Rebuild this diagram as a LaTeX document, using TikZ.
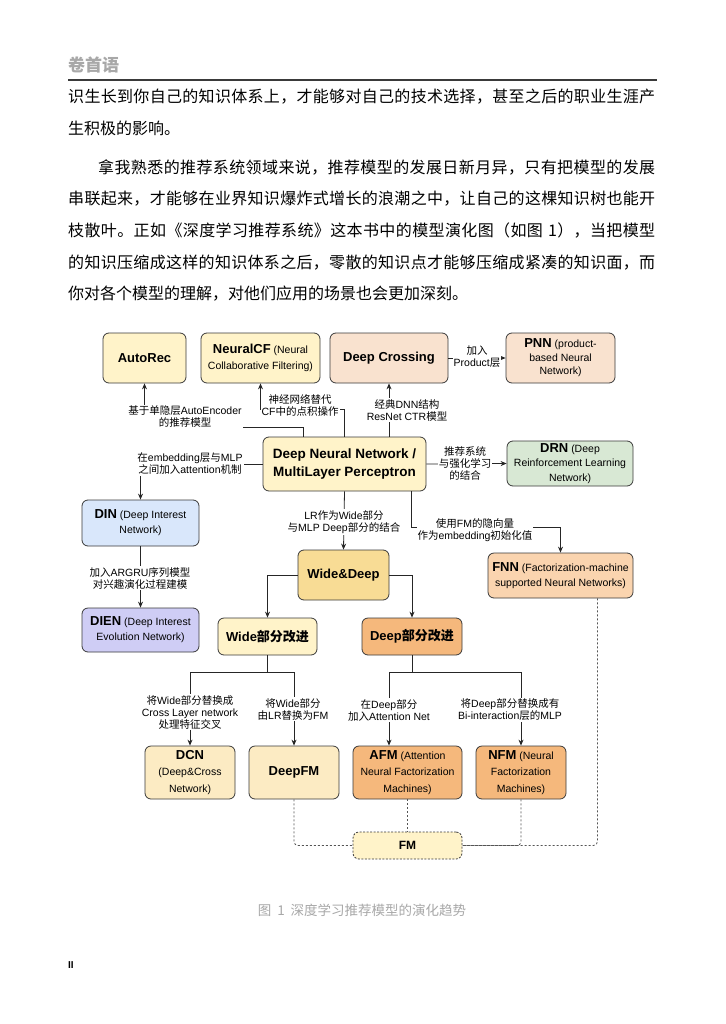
\documentclass[tikz,border=0pt]{standalone}
\usepackage{fontspec}
\setmainfont{Liberation Sans}
\newfontfamily\cjk{Noto Sans CJK SC}
\usetikzlibrary{arrows.meta}
% automatic switch to the CJK font for CJK characters
\XeTeXinterchartokenstate=1
\newXeTeXintercharclass\CJKcls
\newcount\mycnt
\def\setcjkrange#1#2{\mycnt=#1 \loop \XeTeXcharclass\mycnt=\CJKcls \ifnum\mycnt<#2 \advance\mycnt by 1 \repeat}
\setcjkrange{"3000}{"303F}
\setcjkrange{"4E00}{"9FFF}
\setcjkrange{"FF00}{"FFEF}
\XeTeXinterchartoks 0 \CJKcls = {\begingroup\cjk}
\XeTeXinterchartoks 4095 \CJKcls = {\begingroup\cjk}
\XeTeXinterchartoks \CJKcls 0 = {\endgroup}
\XeTeXinterchartoks \CJKcls 4095 = {\endgroup}
% spread characters of a justified line
\def\spend{SPEND}
\def\spr#1{\ifx#1\spend\unskip\else#1\hskip 0pt plus 1pt\relax\expandafter\spr\fi}

\definecolor{bordc}{HTML}{3A3A3A}
\definecolor{linec}{HTML}{262626}
\definecolor{dotc}{HTML}{555555}
\definecolor{cyel}{HTML}{FFF3C9}
\definecolor{cpeach}{HTML}{F9E2CF}
\definecolor{cgreen}{HTML}{D8E8D4}
\definecolor{cblue}{HTML}{D9E7FB}
\definecolor{cpurp}{HTML}{CFCDF5}
\definecolor{cwd}{HTML}{F8DC95}
\definecolor{corange}{HTML}{F5B87C}
\definecolor{cfnn}{HTML}{FAD4AF}
\definecolor{cwheat}{HTML}{FCEBC3}
\definecolor{cgray}{HTML}{A8A8A8}

\newcommand\boxtitle[1]{{\fontsize{13}{15}\selectfont\bfseries #1}}

\begin{document}
\begin{tikzpicture}[x=1pt,y=-1pt,
  box/.style={draw=bordc, line width=0.8pt, rounded corners=6pt, align=center, inner sep=2pt,
    font=\fontsize{10.5}{15}\selectfont},
  lbl/.style={fill=white, align=center, inner sep=1pt, font=\fontsize{10.5}{12}\selectfont},
  arr/.style={draw=linec, line width=0.8pt, -{Stealth[length=6pt,width=5pt]}},
  ln/.style={draw=linec, line width=0.8pt},
  dotl/.style={draw=dotc, line width=0.8pt, dash pattern=on 2pt off 2pt, rounded corners=4pt},
  body/.style={anchor=west, inner sep=0pt, font=\cjk\fontsize{16}{16}\selectfont}
]
\useasboundingbox (0,0) rectangle (725,1024);
\fill[white] (0,0) rectangle (725,1024);

% ---------- page header and text ----------
\node[anchor=west, inner sep=0pt, text=cgray, font=\cjk\fontsize{17}{17}\selectfont\bfseries] (hdr) at (68,65) {卷首语};
\coordinate (rl) at (68,80);
\coordinate (rr) at (657,80);
\draw[draw=bordc, line width=1.6pt] (rl) -- (rr);

\node[body] (t1) at (68,97) {\makebox[587pt][s]{\spr 识生长到你自己的知识体系上，才能够对自己的技术选择，甚至之后的职业生涯产\spend}};
\node[body] (t2) at (68,128) {生积极的影响。};
\node[body] (t3) at (98,167) {\makebox[557pt][s]{\spr 拿我熟悉的推荐系统领域来说，推荐模型的发展日新月异，只有把模型的发展\spend}};
\node[body] (t4) at (68,199) {\makebox[587pt][s]{\spr 串联起来，才能够在业界知识爆炸式增长的浪潮之中，让自己的这棵知识树也能开\spend}};
\node[body] (t5) at (68,231) {\makebox[587pt][s]{\spr 枝散叶。正如《深度学习推荐系统》这本书中的模型演化图（如图\ 1），当把模型\spend}};
\node[body] (t6) at (68,263) {\makebox[587pt][s]{\spr 的知识压缩成这样的知识体系之后，零散的知识点才能够压缩成紧凑的知识面，而\spend}};
\node[body] (t7) at (68,294) {你对各个模型的理解，对他们应用的场景也会更加深刻。};

% ---------- diagram boxes ----------
\node[box, fill=cyel, minimum width=83pt, minimum height=50pt] (autorec) at (144.5,358) {\boxtitle{AutoRec}};
\node[box, fill=cyel, minimum width=119pt, minimum height=50pt, font=\fontsize{10.5}{16.5}\selectfont] (ncf) at (260.5,358) {\boxtitle{NeuralCF} (Neural\\Collaborative Filtering)};
\node[box, fill=cpeach, minimum width=118pt, minimum height=50pt] (dc) at (389,358) {\boxtitle{Deep Crossing}};
\node[box, fill=cpeach, minimum width=109pt, minimum height=50pt, font=\fontsize{10.5}{13.5}\selectfont] (pnn) at (560.5,358) {\boxtitle{PNN} (product-\\based Neural\\Network)};
\node[box, fill=cyel, minimum width=163pt, minimum height=54pt, font=\fontsize{13.5}{18}\selectfont\bfseries] (dnn) at (344.5,464) {Deep Neural Network /\\MultiLayer Perceptron};
\node[box, fill=cgreen, minimum width=126pt, minimum height=45pt, font=\fontsize{10.5}{14.5}\selectfont] (drn) at (570,463.5) {\boxtitle{DRN} (Deep\\Reinforcement Learning\\Network)};
\node[box, fill=cblue, minimum width=117pt, minimum height=46pt] (din) at (140.5,523) {\boxtitle{DIN} (Deep Interest\\Network)};
\node[box, fill=cpurp, minimum width=117pt, minimum height=44pt] (dien) at (140.5,630) {\boxtitle{DIEN} (Deep Interest\\Evolution Network)};
\node[box, fill=cwd, minimum width=91pt, minimum height=50pt] (wd) at (343.5,575) {\boxtitle{Wide\&Deep}};
\node[box, fill=cfnn, minimum width=145pt, minimum height=45pt] (fnn) at (560.5,575.5) {\boxtitle{FNN} (Factorization-machine\\supported Neural Networks)};
\node[box, fill=cyel, minimum width=99pt, minimum height=37pt] (wide) at (267.5,636.5) {\boxtitle{Wide部分改进}};
\node[box, fill=corange, minimum width=100pt, minimum height=37pt] (deep) at (412,636.5) {\boxtitle{Deep部分改进}};
\node[box, fill=cwheat, minimum width=90pt, minimum height=53pt, font=\fontsize{10.5}{16.5}\selectfont] (dcn) at (190,772.5) {\boxtitle{DCN}\\(Deep\&Cross\\Network)};
\node[box, fill=cwheat, minimum width=90pt, minimum height=53pt] (deepfm) at (294,772.5) {\boxtitle{DeepFM}};
\node[box, fill=corange, minimum width=109pt, minimum height=53pt, font=\fontsize{10.5}{16.5}\selectfont] (afm) at (407.5,772.5) {\boxtitle{AFM} (Attention\\Neural Factorization\\Machines)};
\node[box, fill=corange, minimum width=90pt, minimum height=53pt, font=\fontsize{10.5}{16.5}\selectfont] (nfm) at (521,772.5) {\boxtitle{NFM} (Neural\\Factorization\\Machines)};
\node[box, fill=cyel, dash pattern=on 2pt off 1.5pt, minimum width=109pt, minimum height=27pt, font=\fontsize{12}{14}\selectfont\bfseries] (fm) at (407.5,845.5) {FM};

% ---------- connectors ----------
\coordinate (cauto) at (144.5,427);
\draw[arr] ([xshift=-41.5pt]dnn.north) |- (cauto) -- (autorec.south);
\coordinate (cncf) at (260.5,409);
\draw[arr] (dnn.north) |- (cncf) -- (ncf.south);
\draw[arr] (dnn.north -| dc.south) -- (dc.south);
\draw[arr] (dc.east) -- (pnn.west);
\draw[arr] (dnn.east) -- (drn.west);
\draw[arr] (dnn.west) -| (din.north);
\draw[arr] (din.south) -- (dien.north);
\draw[arr] (dnn.south) -- (wd.north);
\coordinate (cfnn) at (560.5,527);
\draw[arr] ([xshift=66.5pt]dnn.south) |- (cfnn) -- (fnn.north);
\draw[arr] (wd.west) -| (wide.north);
\draw[arr] (wd.east) -| (deep.north);
\coordinate (wj) at (267.5,672);
\draw[ln] (wide.south) -- (wj);
\draw[arr] (wj) -| (dcn.north);
\draw[arr] (wj) -| (deepfm.north);
\coordinate (dj) at (412,672);
\draw[ln] (deep.south) -- (dj);
\draw[arr] (dj) -| ([xshift=-18.5pt]afm.north);
\draw[arr] (dj) -| (nfm.north);
\draw[dotl] (deepfm.south) |- (fm.west);
\draw[dotl] (afm.south) -- (fm.north);
\draw[dotl] (nfm.south) |- (fm.east);
\draw[dotl] ([xshift=37pt]fnn.south) |- (fm.east);

% ---------- connector labels ----------
\node[lbl] (l1) at (185,417) {基于单隐层AutoEncoder\\的推荐模型};
\node[lbl] (l2) at (300,405) {神经网络替代\\CF中的点积操作};
\node[lbl] (l3) at (407,410) {经典DNN结构\\ResNet CTR模型};
\node[lbl] (l4) at (477,357) {加入\\Product层};
\node[lbl] (l5) at (465,463) {推荐系统\\与强化学习\\的结合};
\node[lbl] (l6) at (190,464) {在embedding层与MLP\\之间加入attention机制};
\node[lbl] (l7) at (140,578) {加入ARGRU序列模型\\对兴趣演化过程建模};
\node[lbl] (l8) at (344,522) {LR作为Wide部分\\与MLP Deep部分的结合};
\node[lbl] (l9) at (475,530) {使用FM的隐向量\\作为embedding初始化值};
\node[lbl] (l10) at (190,712) {将Wide部分替换成\\Cross Layer network\\处理特征交叉};
\node[lbl] (l11) at (293,709) {将Wide部分\\由LR替换为FM};
\node[lbl] (l12) at (389,710) {在Deep部分\\加入Attention Net};
\node[lbl] (l13) at (510,710) {将Deep部分替换成有\\Bi-interaction层的MLP};

% ---------- caption and page number ----------
\node[inner sep=0pt, text=cgray, font=\cjk\fontsize{13.5}{14}\selectfont] (cap) at (362,910) {图\hspace{6pt}1\hspace{6pt}深度学习推荐模型的演化趋势};
\node[anchor=west, inner sep=0pt, font=\fontsize{10}{10}\selectfont\bfseries] (pg) at (68,965) {II};
\end{tikzpicture}
\end{document}
